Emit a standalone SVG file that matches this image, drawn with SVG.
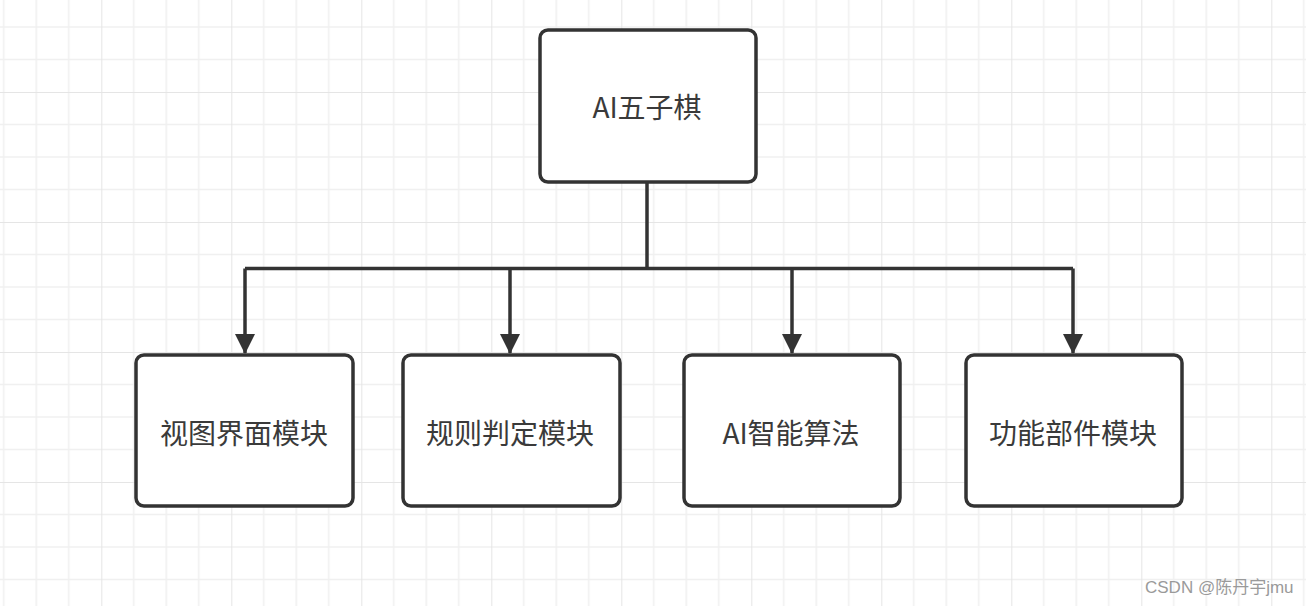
<svg xmlns="http://www.w3.org/2000/svg" width="1306" height="606" viewBox="0 0 1306 606">
  <style>
    .node rect { fill: #ffffff; stroke: #333333; stroke-width: 3.5; }
    .node text { font-family: "Noto Sans CJK SC", "Liberation Sans", sans-serif; font-size: 28px; fill: #3a3a3a; text-anchor: middle; dominant-baseline: central; }
    .conn { fill: none; stroke: #333333; stroke-width: 3.5; }
    .minor { stroke: #f0f0f0; stroke-width: 1.6; }
    .major { stroke: #e5e5e5; stroke-width: 2; }
    .wm { font-family: "Liberation Sans", "Noto Sans CJK SC", sans-serif; font-size: 17px; fill: #9a9a9a; }
  </style>
  <defs>
    <pattern id="grid" patternUnits="userSpaceOnUse" x="-28.7" y="-38" width="130" height="130">
      <line class="minor" x1="32.5" y1="0" x2="32.5" y2="130"/>
      <line class="minor" x1="65" y1="0" x2="65" y2="130"/>
      <line class="minor" x1="97.5" y1="0" x2="97.5" y2="130"/>
      <line class="minor" x1="0" y1="32.5" x2="130" y2="32.5"/>
      <line class="minor" x1="0" y1="65" x2="130" y2="65"/>
      <line class="minor" x1="0" y1="97.5" x2="130" y2="97.5"/>
      <line class="major" x1="0" y1="0" x2="0" y2="130"/>
      <line class="major" x1="0" y1="0" x2="130" y2="0"/>
    </pattern>
    <marker id="arrow" markerUnits="userSpaceOnUse" markerWidth="20" markerHeight="30" refX="19" refY="10" orient="auto" viewBox="0 0 20 20">
      <path d="M0,0 L20,10 L0,20 Z" fill="#333333"/>
    </marker>
  </defs>
  <rect width="1306" height="606" fill="#ffffff"/>
  <rect width="1306" height="606" fill="url(#grid)"/>

  <g id="connectors">
    <path class="conn" d="M647,183 V268.5"/>
    <path class="conn" d="M245,268.5 H1073"/>
    <path class="conn" d="M245,268.5 V353" marker-end="url(#arrow)"/>
    <path class="conn" d="M510,268.5 V353" marker-end="url(#arrow)"/>
    <path class="conn" d="M792,268.5 V353" marker-end="url(#arrow)"/>
    <path class="conn" d="M1073,268.5 V353" marker-end="url(#arrow)"/>
  </g>

  <g id="node-root" class="node">
    <rect x="540" y="30" width="216" height="152" rx="8" ry="8"/>
    <text x="647" y="106">AI五子棋</text>
  </g>
  <g id="node-view" class="node">
    <rect x="136" y="355" width="217" height="151" rx="8" ry="8"/>
    <text x="244" y="432">视图界面模块</text>
  </g>
  <g id="node-rule" class="node">
    <rect x="403" y="355" width="217" height="151" rx="8" ry="8"/>
    <text x="510" y="432">规则判定模块</text>
  </g>
  <g id="node-ai" class="node">
    <rect x="684" y="355" width="216" height="151" rx="8" ry="8"/>
    <text x="791" y="432">AI智能算法</text>
  </g>
  <g id="node-func" class="node">
    <rect x="966" y="355" width="216" height="151" rx="8" ry="8"/>
    <text x="1073" y="432">功能部件模块</text>
  </g>

  <text class="wm" x="1145" y="593">CSDN @陈丹宇jmu</text>
</svg>
